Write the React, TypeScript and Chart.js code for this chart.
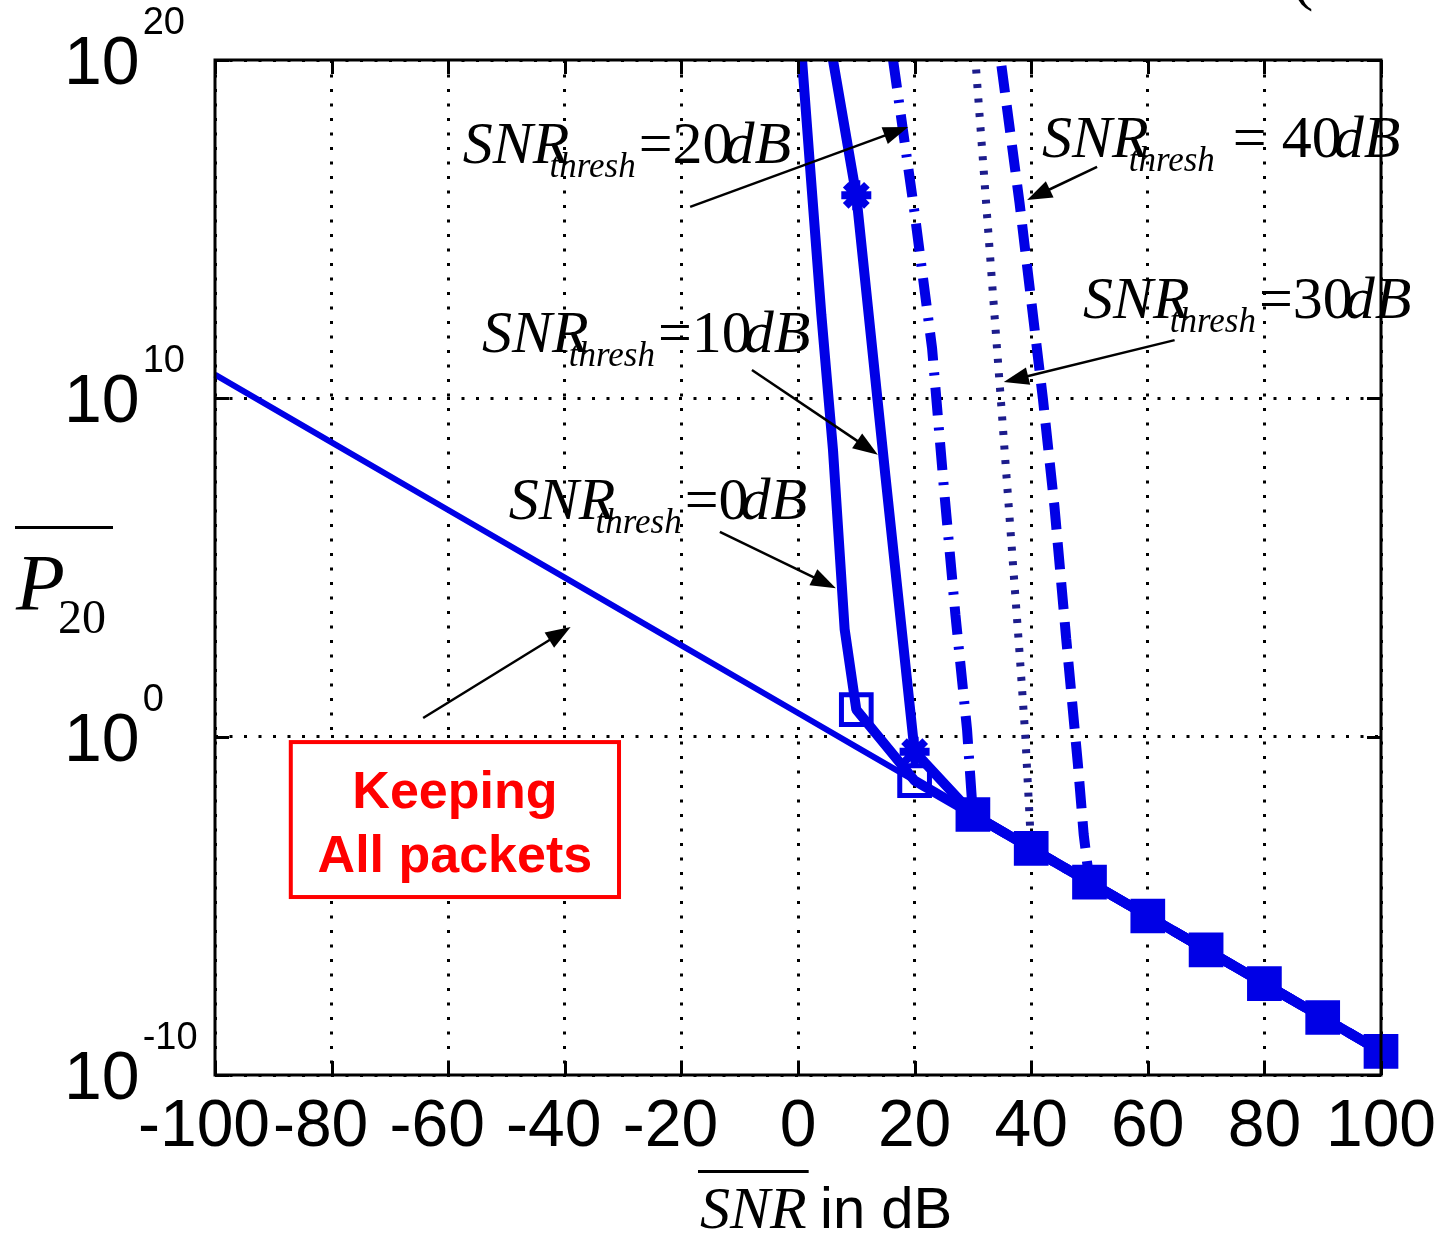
import React, { useEffect, useRef } from "react";
import { Chart, registerables } from "chart.js";

Chart.register(...registerables);

const SERIF = '"Liberation Serif", "Times New Roman", serif';
const SANS = '"Liberation Sans", Arial, sans-serif';
const BLUE = "#0000e6";
const NAVY = "#1c1c8c";

// ---- axes ----
const xTicks = [-100, -80, -60, -40, -20, 0, 20, 40, 60, 80, 100];
const yTicks = [1e-10, 1e0, 1e10, 1e20];
const yTickExponents = ["-10", "0", "10", "20"];

// ---- series (x = mean SNR in dB, y = P20) ----
const keepAllSnr = [-100, -80, -60, -40, -20, 0, 10, 20, 30, 40, 50, 60, 70, 80, 90, 100];
const keepAllP = [5e10, 5e8, 5e6, 5e4, 5e2, 5, 5e-1, 5e-2, 5e-3, 5e-4, 5e-5, 5e-6, 5e-7, 5e-8, 5e-9, 5e-10];

const thr0Snr = [0, 2, 4, 6, 8, 10, 20, 30, 40, 50, 60, 70, 80, 90, 100];
const thr0P = [4e21, 1e17, 3e12, 3e8, 1.5e3, 6.3, 5e-2, 5e-3, 5e-4, 5e-5, 5e-6, 5e-7, 5e-8, 5e-9, 5e-10];

const thr10Snr = [4, 10, 15, 20, 30, 40, 50, 60, 70, 80, 90, 100];
const thr10P = [1e22, 1e16, 5e7, 3.6e-1, 5e-3, 5e-4, 5e-5, 5e-6, 5e-7, 5e-8, 5e-9, 5e-10];

const thr20Snr = [15, 20, 23, 25, 27, 29, 30, 40, 50, 60, 70, 80, 90, 100];
const thr20P = [4e21, 3e15, 3e11, 2.5e7, 4e3, 1.6, 5e-3, 5e-4, 5e-5, 5e-6, 5e-7, 5e-8, 5e-9, 5e-10];

const thr30Snr = [30, 35, 38, 39, 40, 50, 60, 70, 80, 90, 100];
const thr30P = [1e21, 3e9, 3e2, 1, 5e-4, 5e-5, 5e-6, 5e-7, 5e-8, 5e-9, 5e-10];

const thr40Snr = [34, 38, 42, 44, 46, 48, 49, 50, 60, 70, 80, 90, 100];
const thr40P = [1e21, 6e15, 1e10, 6e6, 8e2, 1.6e-1, 1.3e-3, 5e-5, 5e-6, 5e-7, 5e-8, 5e-9, 5e-10];

// ---- annotations (data coordinates: SNR dB, log10 P) ----
const threshEq = ["=0", "=10", "=20", "=30", " = 40"];
const threshLabelSnr = [-49.6, -54.2, -57.5, 48.9, 41.85];
const threshLabelExp = [6.43, 11.37, 16.96, 12.37, 17.13];
const arrowFromSnr = [-13.4, -7.9, -18.5, 64.6, 51.3, -64.3];
const arrowFromExp = [6.05, 10.84, 15.66, 11.72, 16.84, 0.55];
const arrowToSnr = [6.5, 13.7, 18.9, 35.3, 39.3, -39.0];
const arrowToExp = [4.39, 8.33, 18.02, 10.48, 15.86, 3.24];
const keepBoxSnr = [-87.0, -30.7];
const keepBoxExp = [-0.16, -4.74];
const keepLines = ["Keeping", "All packets"];
const keepLineExp = [-2.11, -4.0];

const pts = (xs: number[], ys: number[]) => xs.map((x, i) => ({ x, y: ys[i] }));
const rawX = (c: any) => (c && c.raw ? c.raw.x : NaN);

function drawArrow(ctx: CanvasRenderingContext2D, x1: number, y1: number, x2: number, y2: number) {
  const ang = Math.atan2(y2 - y1, x2 - x1);
  const len = 25;
  const hw = 9;
  ctx.save();
  ctx.strokeStyle = "#000";
  ctx.fillStyle = "#000";
  ctx.lineWidth = 2.5;
  ctx.beginPath();
  ctx.moveTo(x1, y1);
  ctx.lineTo(x2 - Math.cos(ang) * len * 0.8, y2 - Math.sin(ang) * len * 0.8);
  ctx.stroke();
  ctx.beginPath();
  ctx.moveTo(x2, y2);
  ctx.lineTo(x2 - Math.cos(ang) * len - Math.sin(ang) * hw, y2 - Math.sin(ang) * len + Math.cos(ang) * hw);
  ctx.lineTo(x2 - Math.cos(ang) * len + Math.sin(ang) * hw, y2 - Math.sin(ang) * len - Math.cos(ang) * hw);
  ctx.closePath();
  ctx.fill();
  ctx.restore();
}

function drawThreshLabel(ctx: CanvasRenderingContext2D, x: number, y: number, eq: string) {
  ctx.save();
  ctx.fillStyle = "#000";
  ctx.textAlign = "left";
  ctx.textBaseline = "alphabetic";
  ctx.font = `italic 60px ${SERIF}`;
  ctx.fillText("SNR", x, y);
  const wSNR = ctx.measureText("SNR").width;
  const subX = x + wSNR - 20;
  ctx.font = `italic 35px ${SERIF}`;
  ctx.fillText("thresh", subX, y + 14);
  const wSub = ctx.measureText("thresh").width;
  let cx = subX + wSub + 3;
  ctx.font = `60px ${SERIF}`;
  ctx.fillText(eq, cx, y);
  cx += ctx.measureText(eq).width - 8;
  ctx.font = `italic 60px ${SERIF}`;
  ctx.fillText("dB", cx, y);
  ctx.restore();
}

const decorPlugin = {
  id: "decor",
  afterDraw(chart: any) {
    const { ctx, chartArea: a, scales } = chart;
    const xs = scales.x;
    const ys = scales.y;
    const px = (v: number) => xs.getPixelForValue(v);
    const py = (e: number) => ys.getPixelForValue(Math.pow(10, e));

    ctx.save();
    // box
    ctx.strokeStyle = "#000";
    ctx.lineWidth = 3;
    ctx.strokeRect(a.left, a.top, a.right - a.left, a.bottom - a.top);
    // inward ticks
    ctx.beginPath();
    xTicks.forEach((v) => {
      const x = Math.round(px(v)) + 0.5;
      ctx.moveTo(x, a.bottom);
      ctx.lineTo(x, a.bottom - 14);
      ctx.moveTo(x, a.top);
      ctx.lineTo(x, a.top + 14);
    });
    yTicks.forEach((v) => {
      const y = Math.round(ys.getPixelForValue(v)) + 0.5;
      ctx.moveTo(a.left, y);
      ctx.lineTo(a.left + 14, y);
      ctx.moveTo(a.right, y);
      ctx.lineTo(a.right - 14, y);
    });
    ctx.stroke();

    // tick labels
    ctx.fillStyle = "#000";
    ctx.textBaseline = "alphabetic";
    ctx.font = `66px ${SANS}`;
    xTicks.forEach((v) => {
      const x = px(v);
      const digits = String(Math.abs(v));
      const w = ctx.measureText(digits).width;
      ctx.textAlign = "left";
      ctx.fillText(digits, x - w / 2, a.bottom + 71);
      if (v < 0) {
        ctx.textAlign = "right";
        ctx.fillText("-", x - w / 2, a.bottom + 71);
      }
    });
    yTicks.forEach((v, i) => {
      const y = ys.getPixelForValue(v);
      ctx.textAlign = "left";
      ctx.font = `68px ${SANS}`;
      ctx.fillText("10", 64, y + 24);
      const w = ctx.measureText("10").width;
      ctx.font = `38px ${SANS}`;
      ctx.fillText(yTickExponents[i], 64 + w + 3, y - 26);
    });

    // y-axis title  (overline P subscript 20)
    ctx.textAlign = "left";
    ctx.font = `italic 80px ${SERIF}`;
    ctx.fillText("P", 16, 610);
    ctx.font = `48px ${SERIF}`;
    ctx.fillText("20", 58, 633);
    ctx.fillRect(15, 526, 98, 3);

    // x-axis title
    ctx.font = `italic 60px ${SERIF}`;
    ctx.fillText("SNR", 700, 1228);
    const wS = ctx.measureText("SNR").width;
    ctx.fillRect(698, 1170, wS + 4, 3);
    ctx.font = `58px ${SANS}`;
    ctx.fillText("in dB", 820, 1228);

    // clipped title fragment at top right
    ctx.font = `64px ${SERIF}`;
    ctx.fillText("(", 1292, -2);

    // threshold labels and arrows
    threshEq.forEach((eq, i) => {
      drawThreshLabel(ctx, px(threshLabelSnr[i]), py(threshLabelExp[i]), eq);
    });
    arrowFromSnr.forEach((s, i) => {
      drawArrow(ctx, px(s), py(arrowFromExp[i]), px(arrowToSnr[i]), py(arrowToExp[i]));
    });

    // Keeping all packets box
    const bx1 = px(keepBoxSnr[0]);
    const bx2 = px(keepBoxSnr[1]);
    const by1 = py(keepBoxExp[0]);
    const by2 = py(keepBoxExp[1]);
    ctx.fillStyle = "#fff";
    ctx.fillRect(bx1, by1, bx2 - bx1, by2 - by1);
    ctx.strokeStyle = "#ff0000";
    ctx.lineWidth = 4;
    ctx.strokeRect(bx1, by1, bx2 - bx1, by2 - by1);
    ctx.fillStyle = "#ff0000";
    ctx.font = `bold 52px ${SANS}`;
    ctx.textAlign = "center";
    keepLines.forEach((t, i) => ctx.fillText(t, (bx1 + bx2) / 2, py(keepLineExp[i])));
    ctx.restore();
  },
};

export default function App() {
  const ref = useRef<HTMLCanvasElement | null>(null);
  useEffect(() => {
    document.body.style.margin = "0";
    const canvas = ref.current;
    if (!canvas) return;
    const clip = { left: 5, top: 0, right: false, bottom: 5 } as any;
    const markerAt = (c: any, from: number) => {
      const x = rawX(c);
      return x >= from && x % 10 === 0;
    };
    const chart = new Chart(canvas, {
      type: "line",
      data: {
        datasets: [
          {
            label: "SNRthresh=0dB",
            data: pts(thr0Snr, thr0P),
            borderColor: BLUE,
            borderWidth: 10,
            pointStyle: "rect",
            pointRadius: (c: any) => (markerAt(c, 10) ? 21 : 0),
            pointBorderWidth: 5,
            pointBorderColor: BLUE,
            pointBackgroundColor: (c: any) => (rawX(c) >= 30 ? BLUE : "rgba(0,0,0,0)"),
            clip,
          },
          {
            label: "SNRthresh=10dB",
            data: pts(thr10Snr, thr10P),
            borderColor: BLUE,
            borderWidth: 10,
            pointStyle: "star",
            pointRadius: (c: any) => (rawX(c) === 10 || rawX(c) === 20 ? 15 : 0),
            pointBorderWidth: 8,
            pointBorderColor: BLUE,
            pointBackgroundColor: BLUE,
            clip,
          },
          {
            label: "SNRthresh=20dB",
            data: pts(thr20Snr, thr20P),
            borderColor: BLUE,
            borderWidth: 10,
            borderDash: [28, 12, 3, 12],
            pointRadius: 0,
            clip,
          },
          {
            label: "SNRthresh=30dB",
            data: pts(thr30Snr, thr30P),
            borderColor: NAVY,
            borderWidth: 8,
            borderDash: [4, 10.5],
            pointRadius: 0,
            clip,
          },
          {
            label: "SNRthresh=40dB",
            data: pts(thr40Snr, thr40P),
            borderColor: BLUE,
            borderWidth: 10,
            borderDash: [27, 13],
            pointRadius: 0,
            clip,
          },
          {
            label: "Keeping all packets",
            data: pts(keepAllSnr, keepAllP),
            borderColor: BLUE,
            borderWidth: 6,
            pointRadius: 0,
            clip,
          },
        ],
      },
      options: {
        animation: false,
        responsive: false,
        events: [],
        layout: { padding: { left: 215, top: 60, right: 58, bottom: 158 } },
        elements: { line: { tension: 0, borderJoinStyle: "bevel", borderCapStyle: "butt" } },
        plugins: { legend: { display: false }, tooltip: { enabled: false } },
        scales: {
          x: {
            type: "linear",
            min: -100,
            max: 100,
            afterBuildTicks: (axis: any) => {
              axis.ticks = xTicks.map((v) => ({ value: v }));
            },
            ticks: { display: false },
            grid: { color: "#000", lineWidth: 3, drawTicks: false },
            border: { display: false, dash: [3, 11.5] },
          },
          y: {
            type: "logarithmic",
            min: 1e-10,
            max: 1e20,
            afterBuildTicks: (axis: any) => {
              axis.ticks = yTicks.map((v) => ({ value: v }));
            },
            ticks: { display: false },
            grid: { color: "#000", lineWidth: 3, drawTicks: false },
            border: { display: false, dash: [3, 11.5] },
          },
        },
      },
      plugins: [decorPlugin],
    } as any);
    return () => chart.destroy();
  }, []);
  return (
    <div style={{ width: 1439, height: 1233 }}>
      <canvas ref={ref} width={1439} height={1233} style={{ display: "block" }} />
    </div>
  );
}
